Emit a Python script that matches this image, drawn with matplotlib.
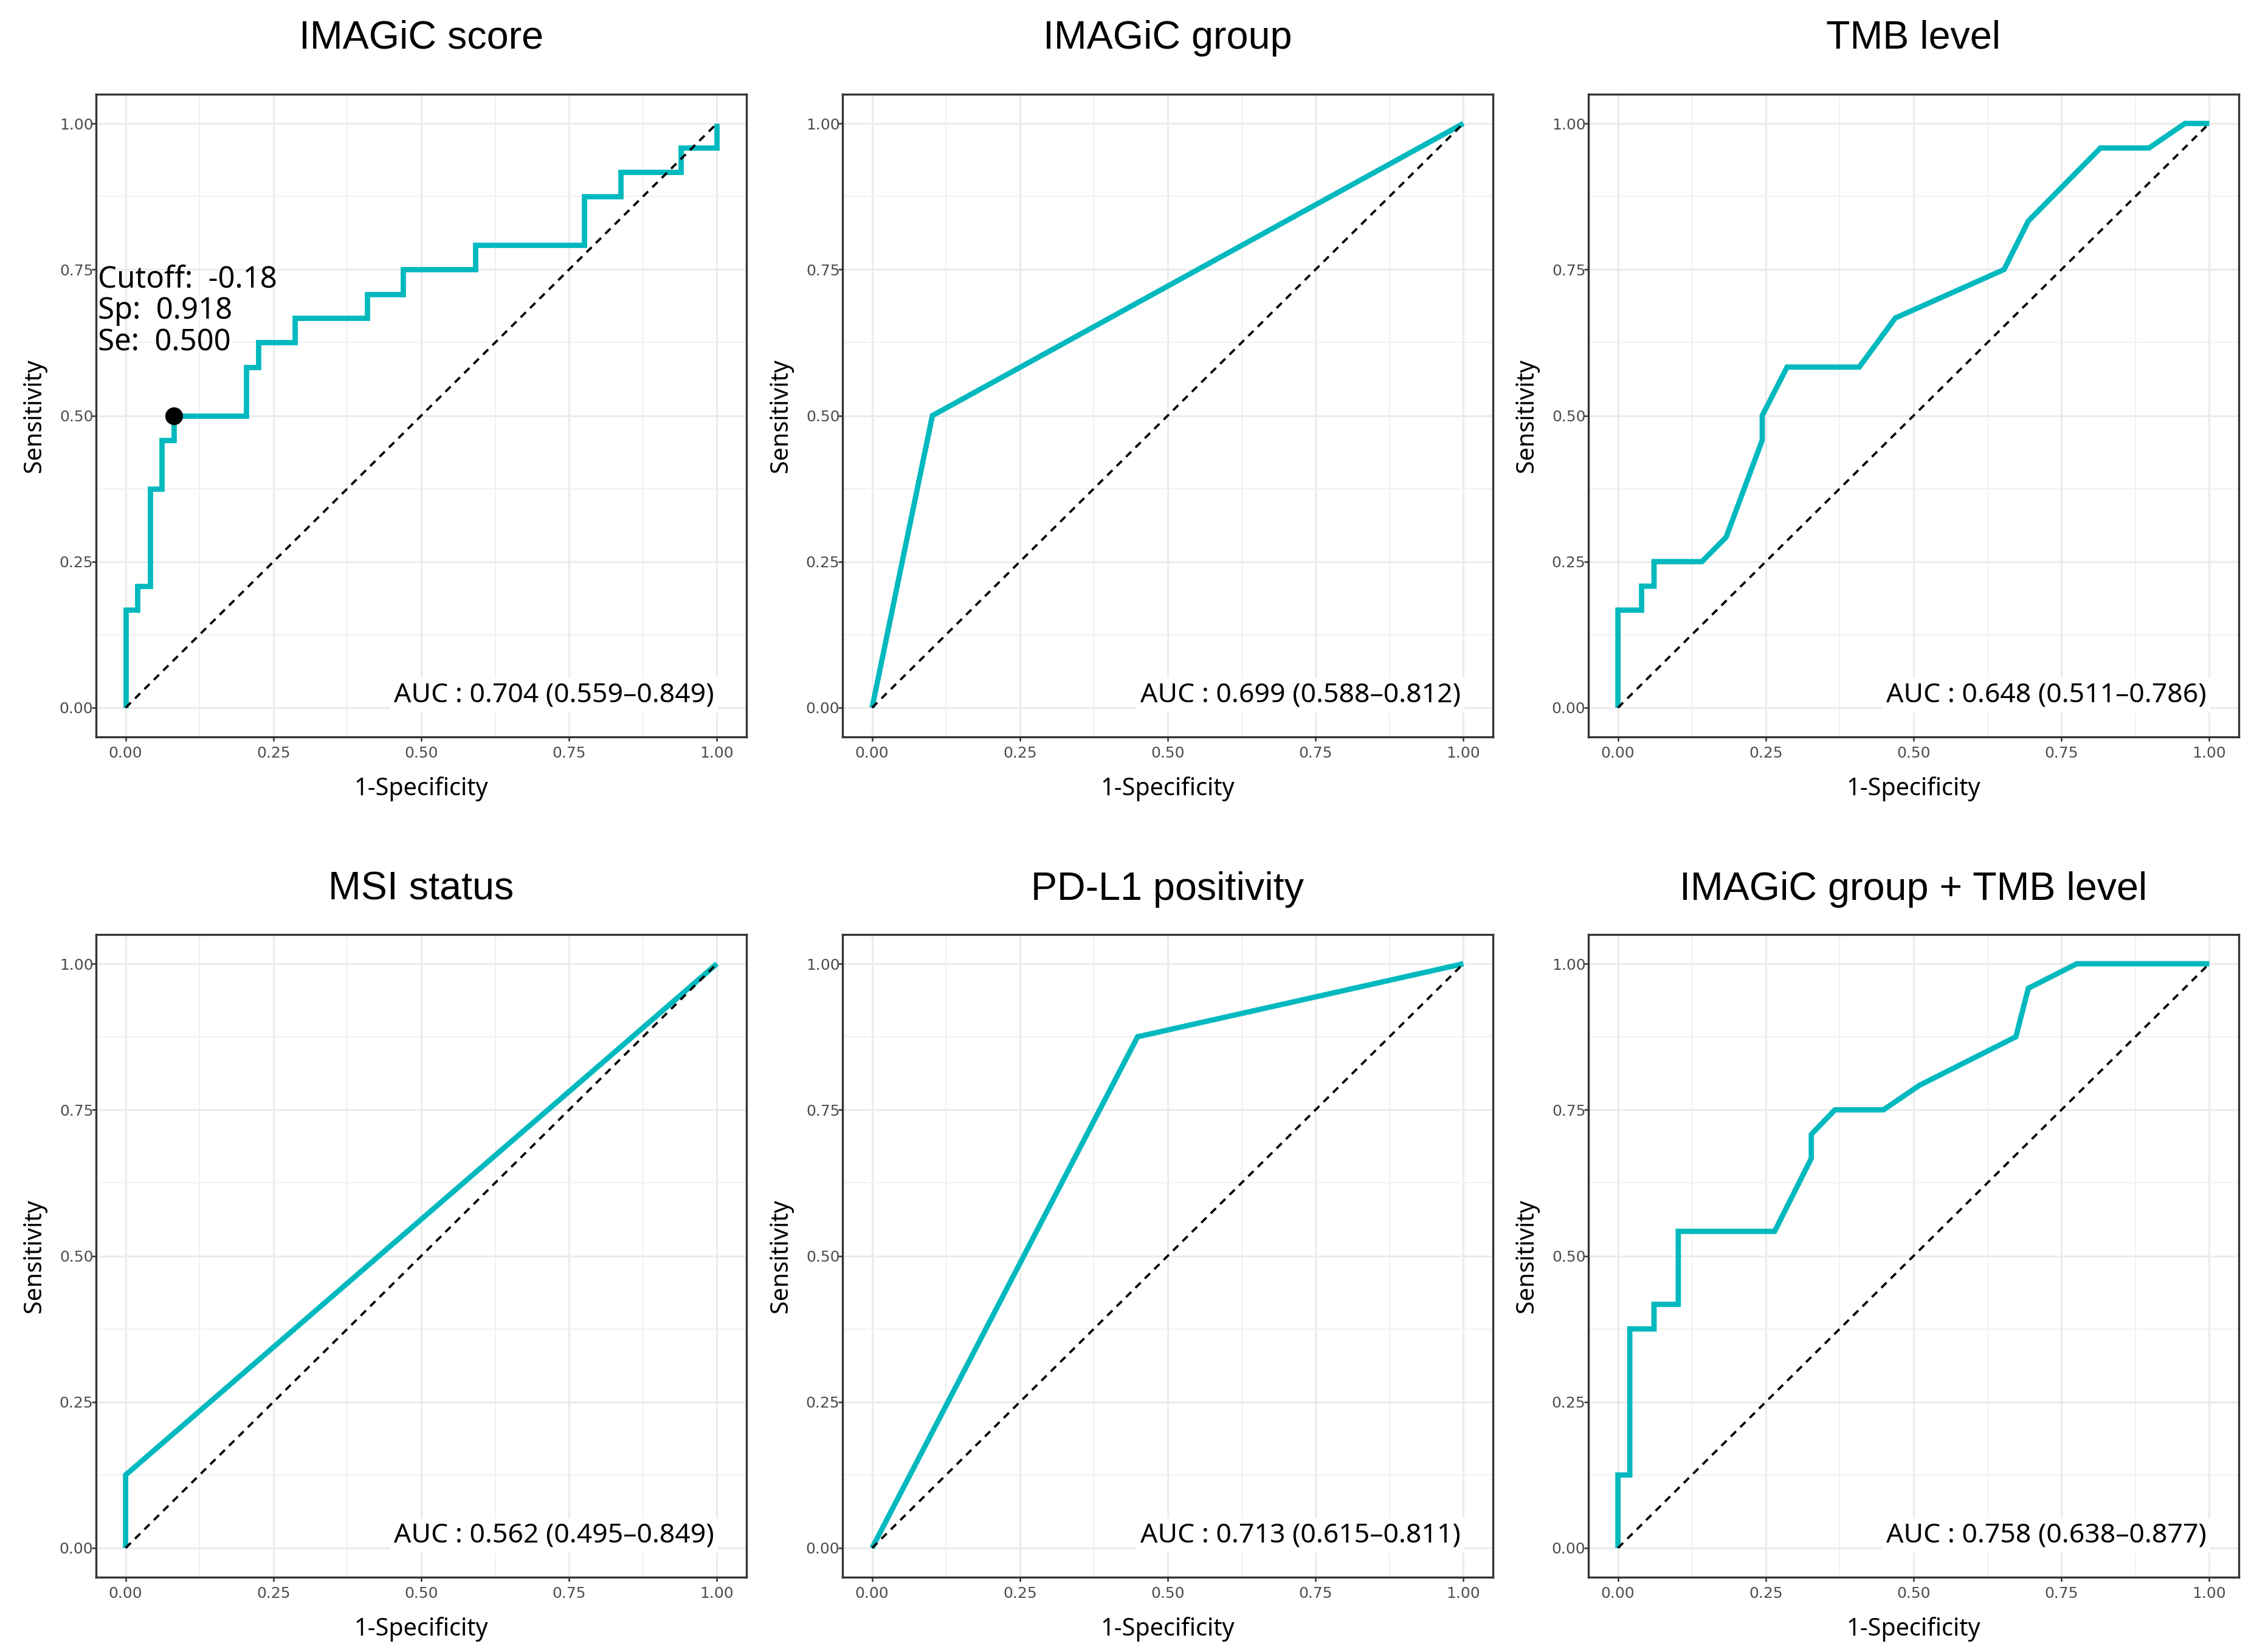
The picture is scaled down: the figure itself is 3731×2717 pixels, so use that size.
import matplotlib
matplotlib.use('Agg')
import matplotlib.pyplot as plt
from matplotlib.ticker import MultipleLocator

# panel titles and AUC labels
titles = ['IMAGiC score', 'IMAGiC group', 'TMB level',
          'MSI status', 'PD-L1 positivity', 'IMAGiC group + TMB level']
auc_labels = ['AUC : 0.704 (0.559\u20130.849)', 'AUC : 0.699 (0.588\u20130.812)',
              'AUC : 0.648 (0.511\u20130.786)', 'AUC : 0.562 (0.495\u20130.849)',
              'AUC : 0.713 (0.615\u20130.811)', 'AUC : 0.758 (0.638\u20130.877)']

# IMAGiC score: ROC points (step curve, steps-post)
score_fpr = [0.0, 0.0, 0.020, 0.041, 0.061, 0.082, 0.204, 0.224, 0.286,
             0.408, 0.469, 0.592, 0.776, 0.837, 0.939, 1.0]
score_tpr = [0.0, 0.167, 0.208, 0.375, 0.458, 0.500, 0.583, 0.625, 0.667,
             0.708, 0.750, 0.792, 0.875, 0.917, 0.958, 1.0]

# best cutoff on the IMAGiC score curve
cut_fpr = 0.082
cut_tpr = 0.500
cut_lines = ['Cutoff:  -0.18', 'Sp:  0.918', 'Se:  0.500']

group_fpr = [0.0, 0.102, 1.0]
group_tpr = [0.0, 0.500, 1.0]

tmb_fpr = [0.0, 0.0, 0.040, 0.040, 0.061, 0.061, 0.142, 0.183, 0.244, 0.244,
           0.286, 0.408, 0.469, 0.653, 0.694, 0.816, 0.898, 0.959, 1.0]
tmb_tpr = [0.0, 0.167, 0.167, 0.208, 0.208, 0.250, 0.250, 0.292, 0.458, 0.500,
           0.583, 0.583, 0.667, 0.750, 0.833, 0.958, 0.958, 1.0, 1.0]

msi_fpr = [0.0, 0.0, 1.0]
msi_tpr = [0.0, 0.125, 1.0]

pdl1_fpr = [0.0, 0.449, 1.0]
pdl1_tpr = [0.0, 0.875, 1.0]

combo_fpr = [0.0, 0.0, 0.020, 0.020, 0.061, 0.061, 0.102, 0.102, 0.265, 0.327,
             0.327, 0.367, 0.449, 0.510, 0.673, 0.694, 0.776, 1.0]
combo_tpr = [0.0, 0.125, 0.125, 0.375, 0.375, 0.417, 0.417, 0.542, 0.542, 0.667,
             0.708, 0.750, 0.750, 0.792, 0.875, 0.958, 1.0, 1.0]

ticks = [0.0, 0.25, 0.5, 0.75, 1.0]

TEAL = '#00B9BE'
TEXT_FONT = ['Noto Sans', 'DejaVu Sans']
TITLE_FONT = ['Liberation Sans', 'DejaVu Sans']

W, H, DPI = 3731, 2717, 300
fig = plt.figure(figsize=(W / DPI, H / DPI), dpi=DPI)

col_left = [158, 1386, 2613]
row_bottom = [1212, 2594]
ax_w, ax_h = 1070, 1057
title_pad = [18, 13.7]

curves = [(score_fpr, score_tpr), (group_fpr, group_tpr), (tmb_fpr, tmb_tpr),
          (msi_fpr, msi_tpr), (pdl1_fpr, pdl1_tpr), (combo_fpr, combo_tpr)]

for i in range(6):
    r, c = divmod(i, 3)
    ax = fig.add_axes([col_left[c] / W, 1 - row_bottom[r] / H, ax_w / W, ax_h / H])
    ax.set_xlim(-0.05, 1.05)
    ax.set_ylim(-0.05, 1.05)

    # theme_bw look
    ax.set_xticks(ticks)
    ax.set_yticks(ticks)
    ax.xaxis.set_minor_locator(MultipleLocator(0.125))
    ax.yaxis.set_minor_locator(MultipleLocator(0.125))
    ax.grid(True, which='major', color='#EBEBEB', lw=0.7, zorder=0)
    ax.grid(True, which='minor', color='#F1F1F1', lw=0.45, zorder=0)
    ax.set_axisbelow(True)
    for s in ax.spines.values():
        s.set_color('#333333')
        s.set_linewidth(0.8)
    ax.tick_params(which='minor', length=0)
    ax.tick_params(which='major', length=1.7, width=0.6, color='#333333',
                   labelsize=6, labelcolor='#4D4D4D')
    ax.tick_params(axis='y', pad=-0.6)
    ax.tick_params(axis='x', pad=1.8)
    ax.set_xticklabels(['%.2f' % t for t in ticks])
    ax.set_yticklabels(['%.2f' % t for t in ticks])

    ax.set_xlabel('1-Specificity', family=TEXT_FONT, fontsize=9.5, labelpad=6.3)
    ax.set_ylabel('Sensitivity', family=TEXT_FONT, fontsize=9.5, labelpad=5)
    ax.set_title(titles[i], family=TITLE_FONT, fontsize=15.5, pad=title_pad[r])

    fpr, tpr = curves[i]
    if i == 0:
        ax.step(fpr, tpr, where='post', color=TEAL, lw=2.1, zorder=3,
                solid_joinstyle='miter', solid_capstyle='butt')
    else:
        ax.plot(fpr, tpr, color=TEAL, lw=2.1, zorder=3,
                solid_joinstyle='miter', solid_capstyle='butt')

    ax.plot([0, 1], [0, 1], color='black', lw=0.9, dashes=(3.2, 2.6), zorder=4)

    ax.text(0.995, 0.01, auc_labels[i], family=TEXT_FONT, fontsize=10.7,
            ha='right', va='baseline', zorder=5,
            bbox=dict(facecolor='white', edgecolor='none', pad=1.5))

    if i == 0:
        ax.plot([cut_fpr], [cut_tpr], 'o', color='black', ms=6, zorder=6)
        for k, line in enumerate(cut_lines):
            ax.text(-0.047, 0.720 - 0.0545 * k, line, family=TEXT_FONT,
                    fontsize=11.8, ha='left', va='baseline', zorder=6)

fig.savefig('out.png', dpi=DPI)
